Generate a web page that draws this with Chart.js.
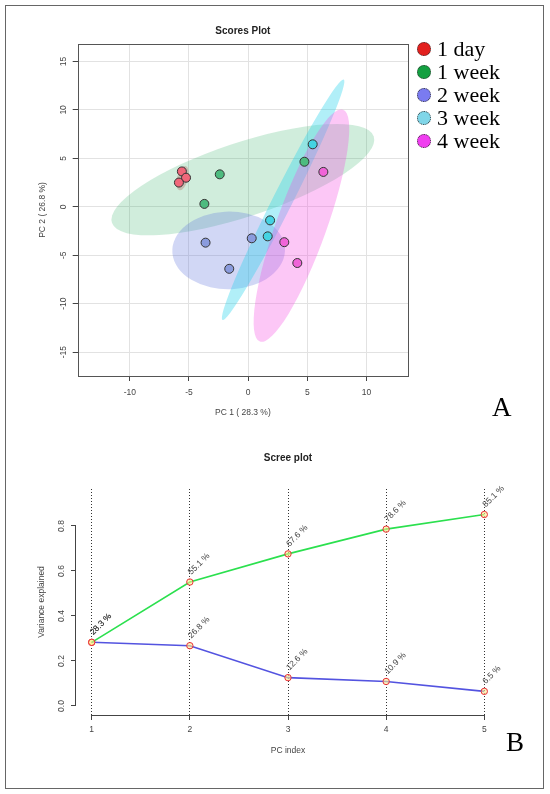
<!DOCTYPE html>
<html><head><meta charset="utf-8">
<script src="https://cdn.jsdelivr.net/npm/chart.js@4.4.1/dist/chart.umd.min.js"></script>
<style>
html,body{margin:0;padding:0;background:#fff;width:550px;height:794px;overflow:hidden}
#frame{position:absolute;left:5px;top:5px;width:537px;height:782px;border:1.5px solid #666}
canvas{position:absolute;left:0}
#c1{top:0}
#c2{top:430px}
.leg{position:absolute;left:417px;height:22px;display:flex;align-items:center;font-family:'Liberation Serif','Times New Roman',serif;font-size:22px;color:#000;white-space:nowrap}
.dot{width:12px;height:12px;border-radius:50%;border:1px dotted #333;margin-right:6px;flex:none}
.panel{position:absolute;font-family:'Liberation Serif','Times New Roman',serif;font-size:27px;color:#000;line-height:27px}
</style>
</head><body>
<div id="frame"></div>
<canvas id="c1" width="550" height="430"></canvas>
<canvas id="c2" width="550" height="364"></canvas>
<div class="panel" style="left:492px;top:394px">A</div>
<div class="panel" style="left:506px;top:729px">B</div>
<script>
// ---------- Scores plot data ----------
const groups = ['1 day', '1 week', '2 week', '3 week', '4 week'];
const day1X  = [-5.6, -5.25, -5.85];
const day1Y  = [3.65, 3.0, 2.5];
const week1X = [-2.4, -3.7, 4.75];
const week1Y = [3.35, 0.3, 4.65];
const week2X = [-3.6, -1.6, 0.3];
const week2Y = [-3.7, -6.4, -3.25];
const week3X = [5.45, 1.85, 1.65];
const week3Y = [6.45, -1.4, -3.05];
const week4X = [6.35, 3.05, 4.15];
const week4Y = [3.6, -3.65, -5.8];
// 95% confidence ellipses: centre and two conjugate semi-axis vectors (data units)
const ellCX = [-5.55, -0.45, -1.65, 2.95, 4.5];
const ellCY = [2.95, 2.8, -4.5, 0.73, -1.94];
const ellUX = [0.25, 11.05, 4.75, 5.12, 3.51];
const ellUY = [1.25, 4.48, 0.3, 12.4, 11.96];
const ellVX = [0.45, -1.05, -0.3, 0.75, 2.0];
const ellVY = [-0.1, 3.6, 4.0, -0.45, -0.85];
const xTicks1 = [-10, -5, 0, 5, 10];
const yTicks1 = [-15, -10, -5, 0, 5, 10, 15];

// ---------- Scree plot data ----------
const pcIndex = [1, 2, 3, 4, 5];
const cumVar  = [0.283, 0.551, 0.676, 0.786, 0.851];
const pcVar   = [0.283, 0.268, 0.126, 0.109, 0.065];
const xTicks2 = [1, 2, 3, 4, 5];
const yTicks2 = [0, 0.2, 0.4, 0.6, 0.8];

// ---------- styles ----------
const FONT = "'Liberation Sans', Arial, sans-serif";
const TXT = '#444';
const pointColors = ['#F0677A', '#4DBB7F', '#8A9BDD', '#44D3E2', '#F064D8'];
const ellColors = ['rgba(215,70,80,0.32)', 'rgba(40,175,95,0.22)', 'rgba(90,110,220,0.28)', 'rgba(40,210,235,0.36)', 'rgba(245,70,225,0.30)'];
const legendColors = ['#E3201E', '#13A041', '#7A7BF0', '#80D6E8', '#F03EF0'];

// legend (HTML)
groups.forEach((g, i) => {
  const d = document.createElement('div');
  d.className = 'leg';
  d.style.top = (38 + i * 23) + 'px';
  d.innerHTML = '<span class="dot" style="background:' + legendColors[i] + '"></span><span>' + g + '</span>';
  document.body.appendChild(d);
});

const xs = [day1X, week1X, week2X, week3X, week4X];
const ys = [day1Y, week1Y, week2Y, week3Y, week4Y];

function rotatedYLabels(chart, ticks, fmt) {
  const {ctx, scales: {y}, chartArea: a} = chart;
  ctx.save();
  ctx.fillStyle = TXT;
  ctx.font = '8.5px ' + FONT;
  ctx.textAlign = 'center';
  ctx.textBaseline = 'middle';
  ticks.forEach(v => {
    const py = y.getPixelForValue(v);
    ctx.save();
    ctx.translate(a.left - 14.5, py);
    ctx.rotate(-Math.PI / 2);
    ctx.fillText(fmt(v), 0, 0);
    ctx.restore();
  });
  ctx.restore();
}
function drawTitle(chart, text, ty) {
  const {ctx, chartArea: a} = chart;
  ctx.save();
  ctx.fillStyle = '#222';
  ctx.font = 'bold 10px ' + FONT;
  ctx.textAlign = 'center';
  ctx.textBaseline = 'middle';
  ctx.fillText(text, (a.left + a.right) / 2, ty);
  ctx.restore();
}

const scoresPlugin = {
  id: 'scores',
  beforeDatasetsDraw(chart) {
    const {ctx, scales: {x, y}, chartArea: a} = chart;
    ctx.save();
    ctx.beginPath();
    ctx.rect(a.left, a.top, a.right - a.left, a.bottom - a.top);
    ctx.clip();
    for (let i = 0; i < ellCX.length; i++) {
      const px = x.getPixelForValue(ellCX[i]), py = y.getPixelForValue(ellCY[i]);
      const ux = x.getPixelForValue(ellCX[i] + ellUX[i]) - px, uy = y.getPixelForValue(ellCY[i] + ellUY[i]) - py;
      const vx = x.getPixelForValue(ellCX[i] + ellVX[i]) - px, vy = y.getPixelForValue(ellCY[i] + ellVY[i]) - py;
      ctx.save();
      ctx.transform(ux, uy, vx, vy, px, py);
      ctx.beginPath();
      ctx.arc(0, 0, 1, 0, Math.PI * 2);
      ctx.restore();
      ctx.fillStyle = ellColors[i];
      ctx.fill();
    }
    ctx.restore();
  },
  afterDraw(chart) {
    const {ctx, chartArea: a} = chart;
    ctx.save();
    ctx.strokeStyle = '#555';
    ctx.lineWidth = 1;
    ctx.strokeRect(Math.round(a.left) + 0.5, Math.round(a.top) + 0.5, Math.round(a.right - a.left), Math.round(a.bottom - a.top));
    ctx.restore();
    rotatedYLabels(chart, yTicks1, v => String(v));
    drawTitle(chart, 'Scores Plot', 31);
  }
};

new Chart(document.getElementById('c1'), {
  type: 'scatter',
  data: {
    datasets: groups.map((g, i) => ({
      label: g,
      data: xs[i].map((v, j) => ({x: v, y: ys[i][j]})),
      backgroundColor: pointColors[i],
      borderColor: '#333',
      borderWidth: 1,
      pointRadius: 4.5,
      pointHoverRadius: 4.5
    }))
  },
  options: {
    responsive: false,
    animation: false,
    layout: {padding: {top: 44, right: 142, left: 0, bottom: 0}},
    plugins: {legend: {display: false}, tooltip: {enabled: false}, title: {display: false}},
    scales: {
      x: {
        type: 'linear', min: -14.4, max: 13.5,
        afterBuildTicks: s => { s.ticks = xTicks1.map(v => ({value: v})); },
        afterFit: s => { s.height = 54; },
        grid: {color: '#e2e2e2', tickColor: '#444', tickLength: 5},
        border: {display: false},
        ticks: {color: TXT, font: {family: FONT, size: 8.5}, padding: 7, maxRotation: 0, autoSkip: false},
        title: {display: true, text: 'PC 1 ( 28.3 %)', color: TXT, font: {family: FONT, size: 8.5}, padding: {top: 0, bottom: 11.9}}
      },
      y: {
        type: 'linear', min: -17.46, max: 16.8,
        afterBuildTicks: s => { s.ticks = yTicks1.map(v => ({value: v})); },
        afterFit: s => { s.width = 77.7; },
        grid: {color: '#e2e2e2', tickColor: '#444', tickLength: 5},
        border: {display: false},
        ticks: {display: false},
        title: {display: true, text: 'PC 2 ( 26.8 %)', color: TXT, font: {family: FONT, size: 8.5}, padding: {top: 37.9, bottom: 0}}
      }
    }
  },
  plugins: [scoresPlugin]
});

const screePlugin = {
  id: 'scree',
  afterDraw(chart) {
    const {ctx, scales: {x, y}, chartArea: a} = chart;
    ctx.save();
    ctx.strokeStyle = '#444';
    ctx.lineWidth = 1;
    const ax = Math.round(a.left) - 0.5;
    ctx.beginPath();
    ctx.moveTo(ax, y.getPixelForValue(yTicks2[0]));
    ctx.lineTo(ax, y.getPixelForValue(yTicks2[yTicks2.length - 1]));
    const by = Math.round(a.bottom) + 0.5;
    ctx.moveTo(x.getPixelForValue(xTicks2[0]), by);
    ctx.lineTo(x.getPixelForValue(xTicks2[xTicks2.length - 1]), by);
    ctx.stroke();
    ctx.restore();
    rotatedYLabels(chart, yTicks2, v => v.toFixed(1));
    drawTitle(chart, 'Scree plot', 28);
    // percentage labels
    ctx.save();
    ctx.fillStyle = TXT;
    ctx.font = '8.5px ' + FONT;
    ctx.textAlign = 'left';
    ctx.textBaseline = 'alphabetic';
    chart.data.datasets.forEach((ds, di) => {
      const meta = chart.getDatasetMeta(di);
      meta.data.forEach((pt, j) => {
        ctx.save();
        ctx.translate(pt.x + 1.5, pt.y - 7);
        ctx.rotate(-Math.PI / 4);
        ctx.fillText((ds.data[j].y * 100).toFixed(1) + ' %', 0, 0);
        ctx.restore();
      });
    });
    ctx.restore();
  }
};

new Chart(document.getElementById('c2'), {
  type: 'line',
  data: {
    datasets: [
      {
        label: 'Cumulative', data: pcIndex.map((v, i) => ({x: v, y: cumVar[i]})),
        borderColor: '#2BE04E', borderWidth: 1.6, tension: 0,
        pointRadius: 3.2, pointBorderColor: '#E8303A', pointBackgroundColor: 'rgba(255,235,140,0.6)', pointBorderWidth: 1
      },
      {
        label: 'Individual', data: pcIndex.map((v, i) => ({x: v, y: pcVar[i]})),
        borderColor: '#5353E0', borderWidth: 1.6, tension: 0,
        pointRadius: 3.2, pointBorderColor: '#E8303A', pointBackgroundColor: 'rgba(255,235,140,0.6)', pointBorderWidth: 1
      }
    ]
  },
  options: {
    responsive: false,
    animation: false,
    layout: {padding: {top: 59, right: 50, left: 0, bottom: 0}},
    plugins: {legend: {display: false}, tooltip: {enabled: false}, title: {display: false}},
    scales: {
      x: {
        type: 'linear', min: 0.84, max: 5.16,
        afterBuildTicks: s => { s.ticks = xTicks2.map(v => ({value: v})); },
        afterFit: s => { s.height = 79; },
        grid: {color: '#333', tickColor: '#444', tickLength: 5, tickBorderDash: []},
        border: {display: false, dash: [1, 2]},
        ticks: {color: TXT, font: {family: FONT, size: 8.5}, padding: 5, maxRotation: 0, autoSkip: false},
        title: {display: true, text: 'PC index', color: TXT, font: {family: FONT, size: 8.5}, padding: {top: 0, bottom: 38.2}}
      },
      y: {
        type: 'linear', min: -0.04, max: 0.9644,
        afterBuildTicks: s => { s.ticks = yTicks2.map(v => ({value: v})); },
        afterFit: s => { s.width = 76; },
        grid: {drawOnChartArea: false, tickColor: '#444', tickLength: 5},
        border: {display: false},
        ticks: {display: false},
        title: {display: true, text: 'Variance explained', color: TXT, font: {family: FONT, size: 8.5}, padding: {top: 36.6, bottom: 0}}
      }
    }
  },
  plugins: [screePlugin]
});
</script>
</body></html>
